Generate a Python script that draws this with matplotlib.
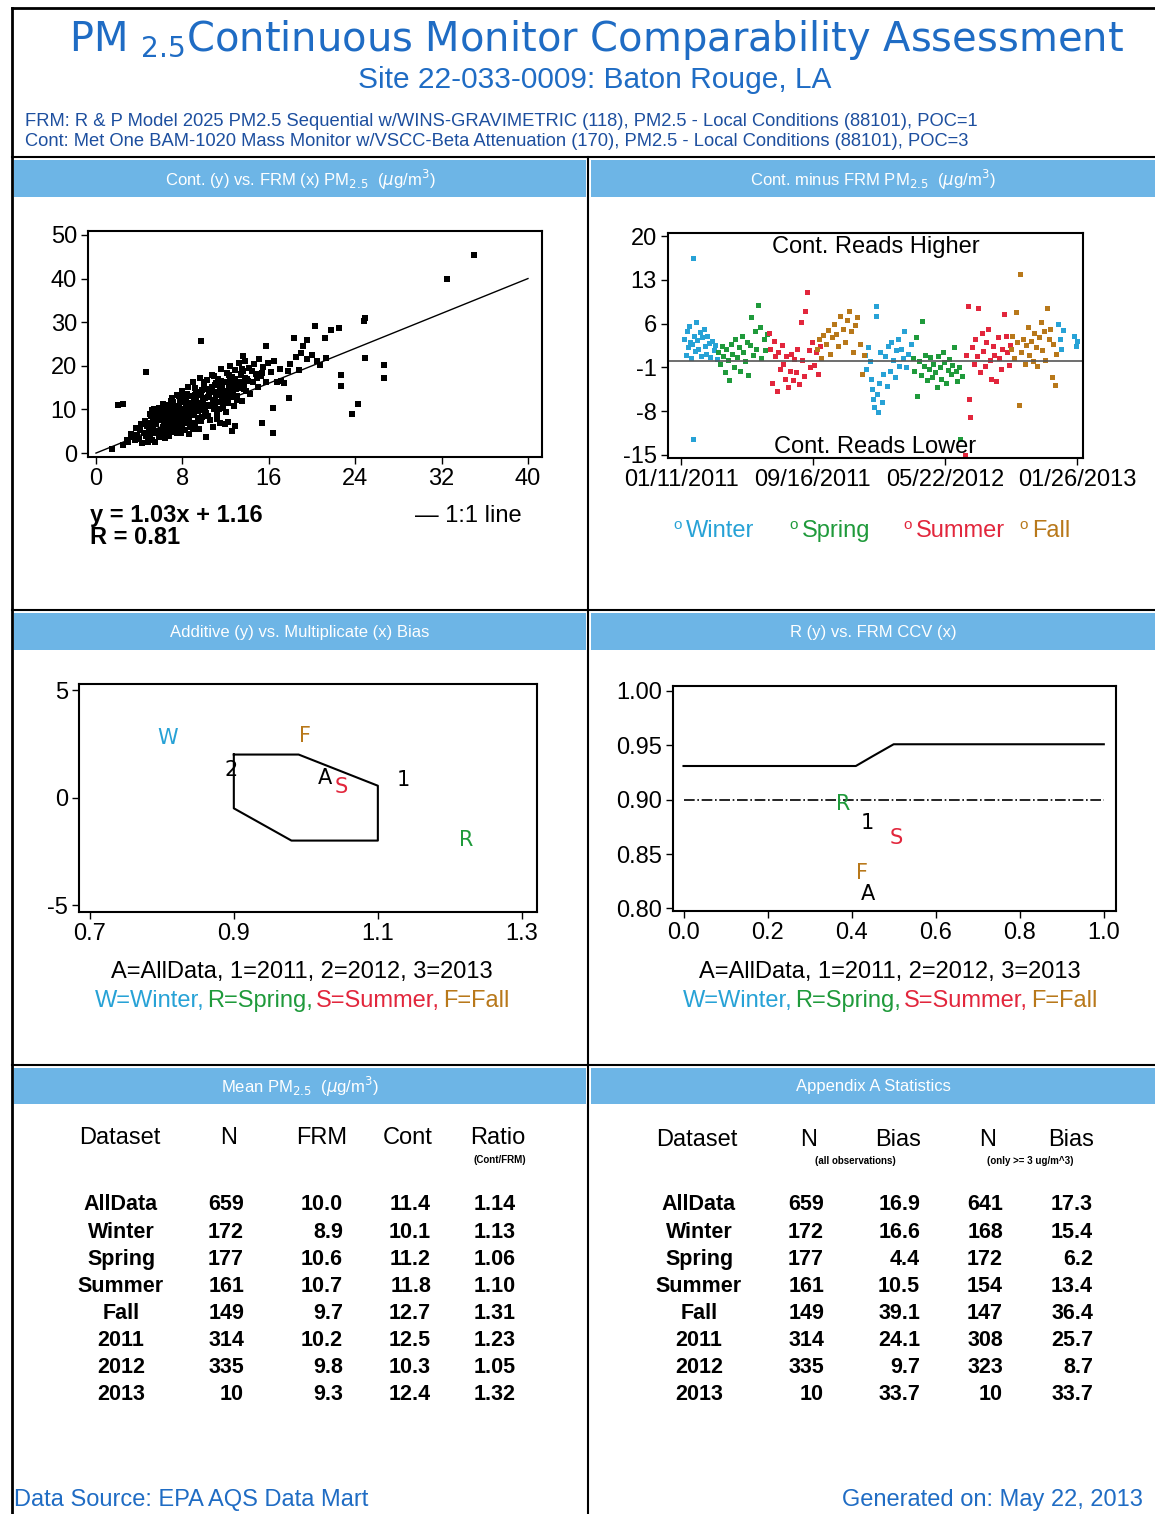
import numpy as np
import matplotlib.pyplot as plt
import matplotlib.dates as mdates
from matplotlib.patches import Rectangle
from matplotlib.lines import Line2D
from matplotlib.ticker import FormatStrFormatter

NARROW = ['Liberation Sans Narrow', 'Liberation Sans', 'DejaVu Sans']
plt.rcParams['font.family'] = NARROW
plt.rcParams['axes.unicode_minus'] = False

BLUE = '#1f6cc4'
DARKBLUE = '#1d4f9f'
BAR = '#6db5e6'
C_WIN = '#27a2d6'
C_SPR = '#1f9a3b'
C_SUM = '#e2263c'
C_FAL = '#b8781a'

# ---- scatter: Cont (y) vs FRM (x) ----
frm_x = [2.5, 3.0, 3.3, 3.6, 3.8, 4.0, 4.1, 4.3, 4.4, 4.6, 4.7, 4.8, 4.9, 5.0, 5.1, 5.2, 5.3, 5.4,
         5.5, 5.6, 5.7, 5.8, 5.9, 6.0, 6.0, 6.1, 6.2, 6.3, 6.4, 6.5, 6.6, 6.7, 6.8, 6.9, 7.0, 7.0,
         7.1, 7.2, 7.3, 7.4, 7.5, 7.6, 7.7, 7.8, 7.9, 8.0, 8.0, 8.1, 8.2, 8.3, 8.4, 8.5, 8.6, 8.7,
         8.8, 8.9, 9.0, 9.0, 9.1, 9.2, 9.3, 9.4, 9.5, 9.6, 9.7, 9.8, 9.9, 10.0, 10.1, 10.2, 10.3,
         10.4, 10.5, 10.6, 10.7, 10.8, 10.9, 11.0, 11.1, 11.2, 11.3, 11.4, 11.5, 11.6, 11.7, 11.8,
         11.9, 12.0, 12.1, 12.2, 12.3, 12.4, 12.5, 12.6, 12.7, 12.8, 12.9, 13.0, 13.1, 13.2, 13.3,
         13.4, 13.5, 13.6, 13.7, 13.8, 13.9, 14.0, 14.2, 14.3, 14.5, 14.6, 14.8, 15.0, 15.1, 15.3,
         15.5, 15.7, 15.9, 16.2, 16.5, 16.8, 17.0,
         5.2, 5.4, 5.6, 5.8, 6.1, 6.3, 6.5, 6.8, 7.1, 7.3, 7.6, 7.8, 8.1, 8.3, 8.6, 8.8, 9.1, 9.3,
         9.6, 9.9, 6.2, 6.6, 7.0, 7.4, 7.9, 8.2, 8.5, 8.9, 9.4, 9.8, 10.2, 10.6, 11.0, 11.4, 11.8,
         12.2, 12.6, 13.0, 13.4, 13.8, 14.4, 14.9, 15.4, 10.3, 10.8, 11.3, 11.9, 12.4, 5.5, 6.4,
         7.5, 8.6, 9.5, 10.8, 11.5, 12.2, 12.9, 4.2, 4.5, 5.0, 3.7, 3.2, 2.9, 6.9, 7.7, 8.4, 9.2,
         10.0, 10.9,
         5.0, 5.3, 5.6, 5.9, 6.2, 6.5, 6.8, 7.1, 7.4, 7.7, 8.0, 8.3, 8.6, 8.9, 9.2, 9.5, 9.8, 10.1,
         10.4, 10.7, 11.0, 11.3, 11.6, 11.9, 12.2, 12.5, 12.8, 13.1, 13.4, 13.7,
         5.1, 5.7, 6.3, 6.9, 7.5, 8.1, 8.7, 9.3, 9.9, 10.5, 11.1, 11.7, 12.3, 12.9, 13.5, 14.1,
         6.0, 6.7, 7.2, 7.9, 8.4, 9.0, 9.7, 10.4, 11.2, 12.0,
         18.5, 19.0, 19.5, 18.0, 20.0, 18.8, 19.2, 20.5, 17.8, 21.3,
         35.0, 32.5, 24.9, 24.8, 20.3, 21.8, 22.5, 9.7, 4.6, 2.0, 2.5, 1.5, 23.7, 24.3, 22.7, 22.7,
         24.9, 26.7, 26.7, 16.4, 15.4, 16.4, 17.9, 15.7, 18.3, 19.5, 21.2, 13.6, 20.7, 10.2, 12.6,
         11.9, 17.4, 17.1]
cont_y = [1.8, 2.5, 3.6, 2.9, 4.1, 3.2, 5.2, 2.4, 4.6, 3.8, 6.1, 2.6, 5.0, 4.2, 7.0, 3.1, 5.8, 8.8,
          4.5, 6.6, 9.9, 3.6, 7.5, 5.3, 10.2, 8.3, 4.1, 6.9, 9.4, 5.6, 11.0, 7.8, 3.9, 9.0, 6.2, 12.6,
          8.6, 4.8, 10.5, 7.2, 13.3, 9.8, 5.5, 11.6, 8.1, 6.4, 14.2, 10.0, 12.3, 7.5, 9.3, 15.1, 11.2,
          5.9, 13.0, 8.7, 10.8, 16.4, 12.1, 7.0, 14.0, 9.6, 11.5, 17.2, 13.2, 8.2, 10.4, 15.0, 12.6,
          9.2, 16.8, 11.0, 13.9, 7.6, 18.0, 12.2, 10.1, 15.6, 13.4, 9.0, 17.0, 11.8, 14.6, 19.2, 12.8,
          10.3, 16.2, 13.7, 18.4, 11.4, 15.3, 20.0, 12.9, 17.4, 14.4, 10.8, 19.0, 16.0, 13.1, 20.6,
          15.0, 17.8, 12.0, 18.9, 15.8, 21.0, 14.2, 17.0, 19.6, 13.6, 16.4, 20.4, 18.2, 15.1, 21.5,
          17.6, 19.8, 16.4, 20.7, 18.6, 21.2, 16.2, 19.3,
          9.8, 10.1, 8.0, 10.4, 9.7, 10.0, 8.5, 10.3, 9.9, 7.9, 10.8, 9.0, 8.4, 11.0, 9.7, 10.5, 9.4,
          11.7, 10.2, 12.3, 6.0, 6.3, 7.4, 5.9, 6.8, 5.3, 7.1, 6.6, 8.0, 9.9, 11.0, 10.7, 12.0, 10.2,
          13.9, 14.2, 13.3, 14.8, 16.2, 17.1, 18.8, 17.3, 18.4, 14.7, 14.1, 15.9, 12.4, 16.7, 2.5, 3.5,
          4.6, 4.4, 5.5, 5.9, 6.8, 7.2, 6.3, 6.6, 7.4, 9.0, 5.8, 4.4, 3.1, 12.0, 13.0, 13.6, 14.9,
          16.2, 17.6,
          6.5, 7.8, 9.1, 8.2, 11.3, 7.0, 8.9, 11.8, 6.7, 10.6, 9.5, 12.7, 8.0, 11.4, 13.3, 10.1, 14.4,
          9.6, 12.9, 15.2, 11.1, 14.0, 16.6, 11.7, 13.0, 17.5, 15.5, 12.2, 18.2, 14.6,
          8.4, 5.0, 7.7, 10.9, 8.8, 12.9, 10.0, 12.6, 11.1, 13.6, 16.0, 15.1, 17.9, 17.0, 19.3, 16.6,
          4.8, 5.2, 6.0, 4.5, 6.9, 5.6, 7.4, 8.5, 7.8, 9.4,
          22.0, 23.0, 21.5, 20.5, 22.5, 19.0, 24.5, 21.0, 18.7, 21.8,
          45.4, 40.0, 31.0, 30.2, 29.1, 28.1, 28.7, 25.8, 18.6, 11.0, 11.2, 0.9, 8.9, 11.3, 18.0, 15.4,
          21.8, 20.3, 17.3, 4.6, 7.0, 10.4, 12.7, 24.5, 26.4, 26.0, 26.4, 22.2, 20.2, 3.6, 5.1,
          6.6, 16.1, 16.5]
fit_text = 'y = 1.03x + 1.16'
r_text = 'R = 0.81'

# ---- time series: Cont minus FRM, days after 2011-01-11 ----
start_date = np.datetime64('2011-01-11')
date_ticks = ['2011-01-11', '2011-09-16', '2012-05-22', '2013-01-26']
winter_days = [6, 9, 11, 13, 15, 17, 19, 21, 22, 22, 24, 26, 28, 30, 32, 35, 37, 39, 42, 44, 47, 49,
               52, 55, 58, 61, 64, 67,
               346, 349, 352, 355, 358, 360, 362, 364, 366, 366, 368, 370, 372, 375, 378, 381, 384,
               387, 390, 393, 396, 399, 402, 405, 408, 411, 414, 417, 420, 424, 428, 432,
               710, 713, 716, 719, 740, 743, 746]
winter_diff = [3.5, 1.0, 4.8, 2.2, 5.6, 3.0, 0.5, 2.8, 16.5, -12.5, 4.1, 1.6, 6.3, 3.4, 2.0, 4.6,
               0.9, 3.8, 5.2, 2.4, 1.2, 4.0, 2.9, 0.6, 3.3, 1.8, 2.6, 0.3,
               1.0, -1.2, 2.2, 0.0, -2.8, -4.5, -6.0, -7.4, 8.8, 7.2, -5.2, -8.2, -3.5, 1.5, -6.5,
               -2.0, 0.8, -4.0, 2.5, -1.5, 3.0, 0.2, -2.5, 1.8, 3.5, -0.8, 2.0, 0.5, 4.8, -1.0, 1.2, 2.8,
               6.0, 3.5, 2.0, 5.0, 4.0, 2.5, 3.2]
spring_days = [70, 73, 76, 79, 82, 85, 88, 90, 93, 96, 99, 102, 105, 108, 111, 114, 117, 120, 123,
               126, 129, 132, 135, 138, 141, 144, 148, 151, 155, 158, 162,
               436, 439, 442, 445, 448, 451, 454, 457, 460, 463, 466, 469, 472, 475, 478, 481, 484,
               487, 490, 493, 496, 499, 502, 505, 508, 511, 514, 517, 520, 523, 526, 529]
spring_diff = [1.5, -0.5, 2.4, 0.8, -1.8, 1.9, 0.2, -3.0, 2.8, 1.1, -0.9, 3.5, 0.6, 2.2, -1.5, 4.0,
               1.4, 0.0, 3.1, -2.2, 2.6, 7.0, 1.0, 4.8, 2.0, 9.0, 5.5, 0.5, 3.6, 1.8, 4.4,
               0.5, -1.5, 3.8, -5.5, 0.0, -2.2, 6.5, -0.8, 1.0, -3.0, -1.2, 0.6, -2.5, -0.4, -1.8,
               -4.2, 0.8, -1.0, -2.8, 1.5, -0.2, -3.5, -1.4, 0.4, -2.0, -0.6, 2.2, -1.6, -3.2, -0.9,
               -12.5, -2.4]
summer_days = [165, 168, 171, 174, 177, 180, 183, 186, 189, 192, 195, 198, 201, 204, 207, 210, 213,
               216, 219, 222, 225, 228, 231, 234, 237, 240, 243, 246, 250, 254, 258, 262,
               534, 537, 540, 542, 545, 548, 551, 554, 557, 560, 563, 566, 569, 572, 575, 578, 581,
               584, 587, 590, 593, 596, 599, 602, 605, 608, 611, 614, 617, 620]
summer_diff = [4.5, 2.0, -3.5, 3.2, 0.8, -4.8, 1.5, -1.2, 2.6, -0.5, -2.8, 0.9, -4.2, -1.6, 1.2,
               -3.0, 0.4, -1.8, 2.0, -3.6, 6.2, 0.2, -2.4, 8.0, 11.0, 1.8, -1.0, 3.0, -0.6, 1.4, -2.0, 2.5,
               -15.0, 1.0, 8.8, -6.0, -9.0, 2.2, -0.5, 3.5, 0.8, 8.5, -1.8, 4.5, 1.6, -0.8, 3.0, 5.2,
               0.2, -2.8, 2.4, 1.0, -3.2, 3.8, 0.5, -1.2, 2.0, 7.5, 4.0, 1.5, -0.6, 2.6]
fall_days = [256, 260, 264, 268, 272, 276, 280, 284, 288, 292, 296, 300, 304, 308, 312, 316, 320,
             324, 328, 332, 336, 340, 344,
             621, 624, 627, 630, 633, 636, 638, 641, 644, 647, 650, 653, 656, 659, 662, 665, 668,
             671, 674, 677, 680, 683, 686, 689, 692, 695, 698, 701, 704, 707]
fall_diff = [2.0, 3.5, 0.5, 4.2, 2.8, 5.0, 1.2, 3.8, 6.0, 4.4, 2.5, 7.2, 5.2, 3.0, 6.6, 8.0, 4.8,
             1.5, 5.8, 7.0, 2.8, -2.0, 1.0,
             2.0, 4.0, 0.5, 7.8, 3.0, -7.0, 14.0, 1.5, 3.5, -0.5, 2.6, 5.5, 1.0, 3.2, 0.0, 4.5, 2.2,
             -0.8, 3.8, 6.2, 1.8, 4.8, 0.2, 8.5, 3.5, 5.2, -2.5, 2.8, -3.8, 1.2]

# ---- additive vs multiplicative bias ----
region_mult = [0.9, 0.99, 1.1, 1.1, 0.98, 0.9, 0.9]
region_add = [2.0, 2.0, 0.55, -2.0, -2.0, -0.5, 2.0]
bias_labels = ['W', 'F', '2', 'A', 'S', '1', 'R']
bias_mult = [0.808, 0.999, 0.896, 1.026, 1.049, 1.135, 1.222]
bias_add = [2.78, 2.86, 1.28, 0.93, 0.51, 0.82, -1.96]
bias_colors = [C_WIN, C_FAL, 'k', 'k', C_SUM, 'k', C_SPR]

# ---- R vs FRM CCV ----
ccv_x = [0.0, 0.41, 0.45, 0.5, 1.0]
ccv_r = [0.931, 0.931, 0.940, 0.951, 0.951]
ccv_floor = 0.90
r_labels = ['R', '1', 'S', 'F', 'A']
r_ccv = [0.381, 0.438, 0.505, 0.424, 0.438]
r_val = [0.896, 0.879, 0.865, 0.833, 0.813]
r_colors = [C_SPR, 'k', C_SUM, C_FAL, 'k']

# ---- tables ----
datasets = ['AllData', 'Winter', 'Spring', 'Summer', 'Fall', '2011', '2012', '2013']
n_all = ['659', '172', '177', '161', '149', '314', '335', '10']
mean_frm = ['10.0', '8.9', '10.6', '10.7', '9.7', '10.2', '9.8', '9.3']
mean_cont = ['11.4', '10.1', '11.2', '11.8', '12.7', '12.5', '10.3', '12.4']
ratio = ['1.14', '1.13', '1.06', '1.10', '1.31', '1.23', '1.05', '1.32']
bias_all = ['16.9', '16.6', '4.4', '10.5', '39.1', '24.1', '9.7', '33.7']
n_ge3 = ['641', '168', '172', '154', '147', '308', '323', '10']
bias_ge3 = ['17.3', '15.4', '6.2', '13.4', '36.4', '25.7', '8.7', '33.7']

W, H = 1155, 1514
fig = plt.figure(figsize=(W / 100, H / 100), dpi=100)


def fx(x):
    return x / W


def fy(y):
    return 1 - y / H


def box(l, t, r, b):
    return [fx(l), fy(b), (r - l) / W, (b - t) / H]


def txt(x, y, s, **kw):
    kw.setdefault('va', 'center')
    return fig.text(fx(x), fy(y), s, **kw)


def hline(x0, x1, y, lw=1.5):
    fig.add_artist(Line2D([fx(x0), fx(x1)], [fy(y), fy(y)], color='k', lw=lw))


def vline(x, y0, y1, lw=1.5):
    fig.add_artist(Line2D([fx(x), fx(x)], [fy(y0), fy(y1)], color='k', lw=lw))


def bar(l, t, r, b, label):
    fig.add_artist(Rectangle((fx(l), fy(b)), (r - l) / W, (b - t) / H, color=BAR,
                             transform=fig.transFigure, lw=0))
    txt((l + r) / 2, (t + b) / 2 + 1, label, ha='center', color='white', fontsize=12)


def chain(cx, y, parts, size, gap=5):
    # lay colored pieces side by side, centred on cx
    r = fig.canvas.get_renderer()
    objs = [txt(0, y, s, color=c, fontsize=size) for s, c in parts]
    widths = [o.get_window_extent(r).width for o in objs]
    x = cx - (sum(widths) + gap * (len(widths) - 1)) / 2
    for o, w in zip(objs, widths):
        o.set_x(fx(x))
        x += w + gap


# frame
hline(12, 1155, 8, lw=2)
vline(12, 8, 1514, lw=2)
hline(12, 1155, 157)
hline(12, 1155, 610)
hline(12, 1155, 1065)
vline(588, 157, 1514)

# header
txt(596, 40, r'PM $\mathregular{_{2.5}}$Continuous Monitor Comparability Assessment',
    ha='center', color=BLUE, fontsize=28.8, family='DejaVu Sans')
txt(595, 80, 'Site 22-033-0009: Baton Rouge, LA', ha='center', color=BLUE, fontsize=21.5)
txt(25, 121, 'FRM: R & P Model 2025 PM2.5 Sequential w/WINS-GRAVIMETRIC (118), PM2.5 - Local Conditions (88101), POC=1',
    color=DARKBLUE, fontsize=13.2)
txt(25, 142, 'Cont: Met One BAM-1020 Mass Monitor w/VSCC-Beta Attenuation (170), PM2.5 - Local Conditions (88101), POC=3',
    color=DARKBLUE, fontsize=13.2)

bar(14, 160, 586, 197, r'Cont. (y) vs. FRM (x) PM$_{2.5}$  ($\mu$g/m$^3$)')
bar(591, 160, 1155, 197, r'Cont. minus FRM PM$_{2.5}$  ($\mu$g/m$^3$)')
bar(14, 613, 586, 650, 'Additive (y) vs. Multiplicate (x) Bias')
bar(591, 613, 1155, 650, 'R (y) vs. FRM CCV (x)')
bar(14, 1068, 586, 1104, r'Mean PM$_{2.5}$  ($\mu$g/m$^3$)')
bar(591, 1068, 1155, 1104, 'Appendix A Statistics')


def style(ax):
    for s in ax.spines.values():
        s.set_linewidth(1.5)
    ax.tick_params(direction='out', length=5, width=1, labelsize=17, pad=3)


# panel 1: scatter
ax1 = fig.add_axes(box(88, 231, 542, 457))
ax1.plot(frm_x, cont_y, 's', color='k', markersize=3.7, markeredgewidth=0)
ax1.plot([0, 40], [0, 40], color='k', lw=1)
ax1.set_xlim(-0.74, 41.3)
ax1.set_ylim(-0.9, 50.9)
ax1.set_xticks([0, 8, 16, 24, 32, 40])
ax1.set_yticks([0, 10, 20, 30, 40, 50])
style(ax1)
txt(90, 516, fit_text, fontsize=17, fontweight='bold')
txt(90, 538, r_text, fontsize=17, fontweight='bold')
txt(415, 516, '\u2014 1:1 line', fontsize=17)

# panel 2: time series
ax2 = fig.add_axes(box(668, 233, 1083, 458))
seasons = [(winter_days, winter_diff, C_WIN), (spring_days, spring_diff, C_SPR),
           (summer_days, summer_diff, C_SUM), (fall_days, fall_diff, C_FAL)]
for days, diff, c in seasons:
    dates = start_date + np.array(days).astype('timedelta64[D]')
    ax2.plot(dates, diff, 's', color=c, markersize=3.6, markeredgewidth=0)
ax2.axhline(0, color='#555555', lw=1.2)
ax2.set_xlim(start_date - np.timedelta64(25, 'D'), start_date + np.timedelta64(757, 'D'))
ax2.set_ylim(-15.5, 20.5)
ax2.set_yticks([-15, -8, -1, 6, 13, 20])
ax2.set_xticks([np.datetime64(d) for d in date_ticks])
ax2.xaxis.set_major_formatter(mdates.DateFormatter('%m/%d/%Y'))
style(ax2)
ax2.text(0.5, 0.94, 'Cont. Reads Higher', transform=ax2.transAxes, ha='center', va='center', fontsize=17)
ax2.text(0.5, 0.05, 'Cont. Reads Lower', transform=ax2.transAxes, ha='center', va='center', fontsize=17)
for lx, name, c in [(686, 'Winter', C_WIN), (802, 'Spring', C_SPR),
                    (916, 'Summer', C_SUM), (1032, 'Fall', C_FAL)]:
    txt(lx - 13, 525, 'o', color=c, fontsize=11)
    txt(lx, 531, name, color=c, fontsize=17)

# panel 3: bias
ax3 = fig.add_axes(box(79, 684, 537, 912))
ax3.plot(region_mult, region_add, color='k', lw=1.5)
for lab, x, y, c in zip(bias_labels, bias_mult, bias_add, bias_colors):
    ax3.text(x, y, lab, color=c, ha='center', va='center', fontsize=15, family='DejaVu Sans')
ax3.set_xlim(0.685, 1.321)
ax3.set_ylim(-5.32, 5.28)
ax3.set_xticks([0.7, 0.9, 1.1, 1.3])
ax3.set_yticks([-5, 0, 5])
ax3.xaxis.set_major_formatter(FormatStrFormatter('%.1f'))
style(ax3)

# panel 4: R vs CCV
ax4 = fig.add_axes(box(673, 686, 1116, 911))
ax4.plot(ccv_x, ccv_r, color='k', lw=1.5)
ax4.plot([0, 1], [ccv_floor, ccv_floor], color='k', lw=1.2, ls='-.')
for lab, x, y, c in zip(r_labels, r_ccv, r_val, r_colors):
    ax4.text(x, y, lab, color=c, ha='center', va='center', fontsize=15, family='DejaVu Sans')
ax4.set_xlim(-0.025, 1.029)
ax4.set_ylim(0.7976, 1.0046)
ax4.set_xticks([0.0, 0.2, 0.4, 0.6, 0.8, 1.0])
ax4.set_yticks([0.80, 0.85, 0.90, 0.95, 1.00])
ax4.xaxis.set_major_formatter(FormatStrFormatter('%.1f'))
ax4.yaxis.set_major_formatter(FormatStrFormatter('%.2f'))
style(ax4)

# legends under bias panels
season_parts = [('W=Winter,', C_WIN), ('R=Spring,', C_SPR), ('S=Summer,', C_SUM), ('F=Fall', C_FAL)]
for cx in (302, 890):
    txt(cx, 972, 'A=AllData, 1=2011, 2=2012, 3=2013', ha='center', fontsize=17)
    chain(cx, 1001, season_parts, 17, gap=3)

# tables
row_y = [1205 + 27.1 * i for i in range(len(datasets))]
txt(120, 1138, 'Dataset', ha='center', fontsize=17)
txt(229, 1138, 'N', ha='center', fontsize=17)
txt(322, 1138, 'FRM', ha='center', fontsize=17)
txt(408, 1138, 'Cont', ha='center', fontsize=17)
txt(498, 1138, 'Ratio', ha='center', fontsize=17)
txt(500, 1160, '(Cont/FRM)', ha='center', fontsize=7, fontweight='bold')
txt(697, 1140, 'Dataset', ha='center', fontsize=17)
txt(809, 1140, 'N', ha='center', fontsize=17)
txt(898, 1140, 'Bias', ha='center', fontsize=17)
txt(988, 1140, 'N', ha='center', fontsize=17)
txt(1071, 1140, 'Bias', ha='center', fontsize=17)
txt(855, 1161, '(all observations)', ha='center', fontsize=7, fontweight='bold')
txt(1030, 1161, '(only >= 3 ug/m^3)', ha='center', fontsize=7, fontweight='bold')
for i, y in enumerate(row_y):
    kw = dict(fontsize=15.5, fontweight='bold')
    txt(121, y, datasets[i], ha='center', **kw)
    txt(244, y, n_all[i], ha='right', **kw)
    txt(343, y, mean_frm[i], ha='right', **kw)
    txt(431, y, mean_cont[i], ha='right', **kw)
    txt(516, y, ratio[i], ha='right', **kw)
    txt(699, y, datasets[i], ha='center', **kw)
    txt(824, y, n_all[i], ha='right', **kw)
    txt(920, y, bias_all[i], ha='right', **kw)
    txt(1003, y, n_ge3[i], ha='right', **kw)
    txt(1093, y, bias_ge3[i], ha='right', **kw)

# footer
txt(14, 1500, 'Data Source: EPA AQS Data Mart', color=BLUE, fontsize=17)
txt(1143, 1500, 'Generated on: May 22, 2013', ha='right', color=BLUE, fontsize=17)

fig.savefig('out.png', dpi=100)
